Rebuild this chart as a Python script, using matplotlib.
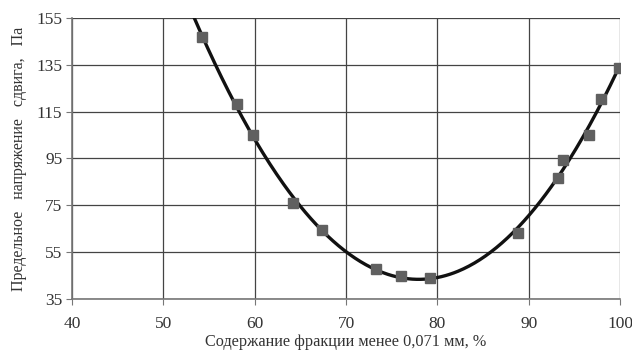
import numpy as np
import matplotlib
matplotlib.use('Agg')
import matplotlib.pyplot as plt

fraction = [54.2, 58.1, 59.8, 64.2, 67.4, 73.3, 76.0, 79.2, 88.8, 93.2, 93.8, 96.6, 97.9, 99.9]
stress = [146.9, 118.3, 105.0, 76.0, 64.5, 47.8, 44.8, 44.0, 63.2, 86.7, 94.4, 105.0, 120.4, 133.6]

x_ticks = [40, 50, 60, 70, 80, 90, 100]
y_ticks = [35, 55, 75, 95, 115, 135, 155]

plt.rcParams['font.family'] = ['Liberation Serif', 'DejaVu Serif']

fig = plt.figure(figsize=(6.32, 3.51), dpi=100)
ax = fig.add_axes([0.114, 0.148, 0.867, 0.801])

# trendline: polynomial fit of the measured points
coef = np.polyfit(fraction, stress, 3)
xs = np.linspace(40, 100, 400)
ax.plot(xs, np.polyval(coef, xs), color='#111111', lw=2.4, zorder=3)
ax.plot(fraction, stress, 's', color='#606060', ms=6.5, zorder=4)

ax.set_xlim(40, 100)
ax.set_ylim(35, 155)
ax.set_xticks(x_ticks)
ax.set_yticks(y_ticks)
ax.grid(True, color='#444444', lw=0.9)
ax.set_axisbelow(True)
for side in ['top', 'right']:
    ax.spines[side].set_visible(False)
for side in ['left', 'bottom']:
    ax.spines[side].set_color('#777777')
    ax.spines[side].set_linewidth(1.2)
ax.tick_params(length=4, color='#777777', labelsize=12.5, labelcolor='#333333', pad=3)
ax.tick_params(axis='x', pad=8)

ax.set_xlabel('Содержание фракции менее 0,071 мм, %', fontsize=11.7, color='#333333', labelpad=2)
ax.set_ylabel('Предельное   напряжение   сдвига,   Па', fontsize=11.5, color='#333333', labelpad=7)

fig.savefig('out.png', dpi=100)
